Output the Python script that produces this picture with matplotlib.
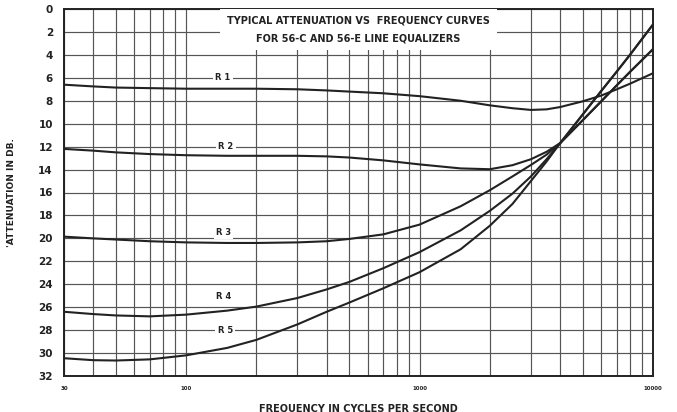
"""
56-C / 56-E line equalizer attenuation vs frequency
"""

import numpy as np
from matplotlib import pyplot as plt
from matplotlib.ticker import FixedLocator, NullFormatter


freq = [30, 40, 50, 70, 100, 150, 200, 300, 400, 500, 700, 1000,
        1500, 2000, 2500, 3000, 3500, 4000, 5000, 6000, 7000, 8000, 10000]

r1 = [6.6, 6.75, 6.85, 6.9, 6.95, 6.95, 6.95, 7.0, 7.1, 7.2, 7.35, 7.6,
      8.0, 8.4, 8.65, 8.8, 8.75, 8.55, 8.05, 7.55, 7.0, 6.5, 5.6]
r2 = [12.2, 12.35, 12.5, 12.65, 12.75, 12.8, 12.8, 12.8, 12.85, 12.95, 13.2, 13.55,
      13.9, 13.97, 13.62, 13.1, 12.45, 11.7, 9.7, 8.05, 6.65, 5.45, 3.5]
r3 = [19.85, 20.0, 20.1, 20.25, 20.35, 20.4, 20.4, 20.35, 20.25, 20.05, 19.65, 18.8,
      17.2, 15.8, 14.6, 13.6, 12.7, 11.7, 9.7, 8.05, 6.65, 5.45, 3.5]
r4 = [26.4, 26.6, 26.72, 26.8, 26.65, 26.3, 25.95, 25.2, 24.45, 23.8, 22.6, 21.2,
      19.3, 17.6, 16.1, 14.6, 13.1, 11.7, 9.2, 7.15, 5.45, 3.95, 1.35]
r5 = [30.45, 30.62, 30.65, 30.55, 30.2, 29.55, 28.85, 27.5, 26.4, 25.6, 24.35, 22.95,
      20.95, 18.9, 17.0, 15.0, 13.3, 11.7, 9.2, 7.15, 5.45, 3.95, 1.35]

curves = {'R 1': r1, 'R 2': r2, 'R 3': r3, 'R 4': r4, 'R 5': r5}
# where the curve names sit (freq, dB)
label_pos = {'R 1': (144, 6.0), 'R 2': (148, 12.0), 'R 3': (145, 19.45),
             'R 4': (145, 25.1), 'R 5': (147, 28.0)}

xticks = [30, 100, 1000, 10000]
xticklabels = ['30', '100', '1000', '10000']
yticks = list(range(0, 33, 2))

title = 'TYPICAL ATTENUATION VS  FREQUENCY CURVES\nFOR 56-C AND 56-E LINE EQUALIZERS'

ink = '#222222'
gridc = '#555555'

fig = plt.figure(figsize=(6.77, 4.12), dpi=100)
ax = fig.add_axes([64 / 677, 1 - 376 / 412, 589 / 677, 367 / 412])

for name, vals in curves.items():
    ax.plot(freq, vals, color=ink, lw=1.5, zorder=2, solid_joinstyle='round')

ax.set_xscale('log')
ax.set_xlim(30, 10000)
ax.set_ylim(32, 0)

# every cycle line of the log paper
minor = [m * 10 ** d for d in range(1, 4) for m in range(2, 10)
         if 30 < m * 10 ** d < 10000] + [40, 50, 60, 70, 80, 90]
ax.xaxis.set_major_locator(FixedLocator(xticks))
ax.xaxis.set_minor_locator(FixedLocator(sorted(set(minor))))
ax.xaxis.set_minor_formatter(NullFormatter())
ax.set_xticklabels(xticklabels)
ax.set_yticks(yticks)
ax.grid(True, which='both', color=gridc, lw=0.85, zorder=0)
ax.set_axisbelow(True)

ax.tick_params(which='both', length=0)
ax.tick_params(axis='y', pad=8, labelsize=7.5, labelcolor=ink)
ax.tick_params(axis='x', pad=7, labelsize=4, labelcolor=ink)
for t in ax.get_xticklabels() + ax.get_yticklabels():
    t.set_fontweight('bold')

for s in ax.spines.values():
    s.set_color(ink)
    s.set_linewidth(1.4)

for name, (fx, fy) in label_pos.items():
    ax.text(fx, fy, name, ha='center', va='center', fontsize=6, color=ink,
            fontweight='bold', zorder=3,
            bbox=dict(facecolor='white', edgecolor='none', pad=1.5))

ax.text(0.5, 0.944, title, transform=ax.transAxes, ha='center', va='center',
        fontsize=7, fontweight='bold', color=ink, linespacing=1.9, zorder=3,
        bbox=dict(facecolor='white', edgecolor='none', pad=5))

ax.set_xlabel('FREQUENCY IN CYCLES PER SECOND', fontsize=7, fontweight='bold',
              color=ink, labelpad=9)
ax.set_ylabel("'ATTENUATION IN DB.", fontsize=6.5, fontweight='bold',
              color=ink, labelpad=16)

plt.savefig('out.png', dpi=100)
